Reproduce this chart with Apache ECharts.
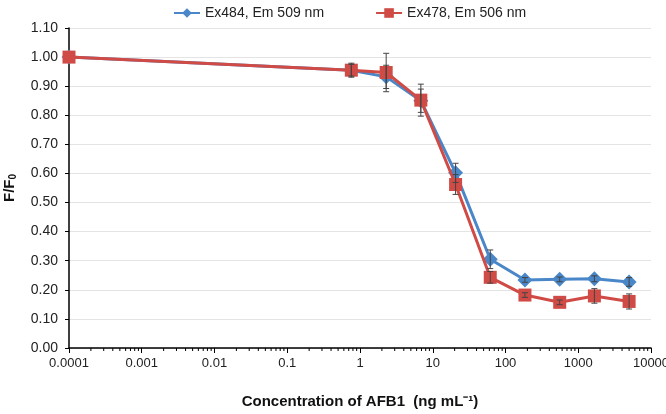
<!DOCTYPE html>
<html>
<head>
<meta charset="utf-8">
<script src="https://cdn.jsdelivr.net/npm/echarts@6/dist/echarts.min.js"></script>
<style>
  html, body { margin: 0; padding: 0; background: #fff; }
  #main { width: 666px; height: 414px; }
</style>
</head>
<body>
<div id="main"></div>
<script>
// AFB1 concentration (ng/mL), blank drawn at 0.0001
var concentrations = [0.0001, 0.76, 2.29, 6.86, 20.6, 61.7, 185, 556, 1667, 5000];
var blueValues = [1.00, 0.955, 0.932, 0.850, 0.602, 0.305, 0.234, 0.236, 0.238, 0.227];
var blueErr    = [0, 0.02, 0.04, 0.04, 0.033, 0.032, 0.008, 0.008, 0.01, 0.015];
var redValues  = [1.00, 0.955, 0.947, 0.852, 0.562, 0.243, 0.182, 0.157, 0.179, 0.160];
var redErr     = [0, 0.024, 0.066, 0.055, 0.034, 0.02, 0.008, 0.008, 0.025, 0.026];
var yTicks = [0, 0.1, 0.2, 0.3, 0.4, 0.5, 0.6, 0.7, 0.8, 0.9, 1.0, 1.1];

var blueName = 'Ex484, Em 509 nm';
var redName = 'Ex478, Em 506 nm';
var blue = '#4a87c8';
var red = '#d04b45';
var font = 'Liberation Sans, Arial, sans-serif';

function pairs(xs, ys) {
  return xs.map(function (x, i) { return [x, ys[i]]; });
}
function errData(xs, ys, es) {
  return xs.map(function (x, i) { return [x, ys[i] - es[i], ys[i] + es[i]]; });
}

// minor ticks 2..9 of each decade for the log axis
var minorTicks = [];
for (var p = -4; p < 4; p++) {
  for (var m = 2; m < 10; m++) minorTicks.push([m * Math.pow(10, p), 0]);
}

function renderErr(params, api) {
  if (api.value(2) - api.value(1) <= 0) return;
  var lo = api.coord([api.value(0), api.value(1)]);
  var hi = api.coord([api.value(0), api.value(2)]);
  var w = 3;
  var st = { stroke: '#444', lineWidth: 1 };
  return {
    type: 'group',
    children: [
      { type: 'line', shape: { x1: lo[0], y1: lo[1], x2: hi[0], y2: hi[1] }, style: st },
      { type: 'line', shape: { x1: lo[0] - w, y1: lo[1], x2: lo[0] + w, y2: lo[1] }, style: st },
      { type: 'line', shape: { x1: hi[0] - w, y1: hi[1], x2: hi[0] + w, y2: hi[1] }, style: st }
    ]
  };
}

function renderMinor(params, api) {
  var pt = api.coord([api.value(0), 0]);
  return {
    type: 'line',
    shape: { x1: pt[0], y1: pt[1], x2: pt[0], y2: pt[1] + 3 },
    style: { stroke: '#000', lineWidth: 1 }
  };
}

var chart = echarts.init(document.getElementById('main'));
chart.setOption({
  animation: false,
  textStyle: { fontFamily: font },
  legend: {
    top: 1,
    left: 168,
    itemWidth: 26,
    itemHeight: 12,
    itemGap: 51,
    textStyle: { fontSize: 14, color: '#222', fontFamily: font },
    data: [blueName, redName]
  },
  grid: { left: 69, right: 15, top: 28, bottom: 66, outerBoundsMode: 'none' },
  xAxis: {
    type: 'log',
    logBase: 10,
    min: 0.0001,
    max: 10000,
    name: 'Concentration of AFB1  (ng mL\u207B\u00B9)',
    nameLocation: 'middle',
    nameGap: 46,
    nameTextStyle: { fontSize: 15, fontWeight: 'bold', color: '#111', fontFamily: font },
    axisLine: { lineStyle: { color: '#000', width: 1.5 } },
    axisTick: { show: true, inside: false, length: 5, lineStyle: { color: '#000' } },
    splitLine: { show: false },
    minorTick: { show: false },
    axisLabel: {
      fontSize: 13, color: '#222', margin: 9,
      formatter: function (v) {
        var lbl = { '-4': '0.0001', '-3': '0.001', '-2': '0.01', '-1': '0.1' };
        var e = Math.round(Math.log10(v));
        return lbl[e] !== undefined ? lbl[e] : String(Math.round(v));
      }
    }
  },
  yAxis: {
    type: 'value',
    min: 0,
    max: 1.1,
    interval: 0.1,
    name: 'F/F{sub|0}',
    nameLocation: 'middle',
    nameGap: 51,
    nameTextStyle: {
      fontSize: 15, fontWeight: 'bold', color: '#111', fontFamily: font,
      rich: { sub: { fontSize: 10, fontWeight: 'bold', verticalAlign: 'bottom', padding: [7, 0, 0, 0] } }
    },
    axisLine: { show: true, lineStyle: { color: '#000', width: 1.5 } },
    axisTick: { show: true, inside: false, length: 4, lineStyle: { color: '#000' } },
    splitLine: { show: true, lineStyle: { color: '#e4e4e4', width: 1 } },
    axisLabel: {
      fontSize: 14, color: '#222', margin: 11,
      formatter: function (v) {
        var t = yTicks.filter(function (k) { return Math.abs(k - v) < 1e-6; });
        return t.length ? t[0].toFixed(2) : '';
      }
    }
  },
  series: [
    {
      name: 'minor',
      type: 'custom',
      renderItem: renderMinor,
      data: minorTicks,
      clip: false,
      silent: true,
      z: 5
    },
    {
      name: blueName,
      type: 'line',
      data: pairs(concentrations, blueValues),
      symbol: 'diamond',
      symbolSize: 15,
      itemStyle: { color: blue },
      lineStyle: { color: blue, width: 3 },
      z: 2
    },
    {
      name: redName,
      type: 'line',
      data: pairs(concentrations, redValues),
      symbol: 'rect',
      symbolSize: 13,
      itemStyle: { color: red },
      lineStyle: { color: red, width: 3 },
      z: 3
    },
    {
      name: 'blueErr',
      type: 'custom',
      renderItem: renderErr,
      data: errData(concentrations, blueValues, blueErr),
      z: 4,
      silent: true
    },
    {
      name: 'redErr',
      type: 'custom',
      renderItem: renderErr,
      data: errData(concentrations, redValues, redErr),
      z: 4,
      silent: true
    }
  ]
});
</script>
</body>
</html>
